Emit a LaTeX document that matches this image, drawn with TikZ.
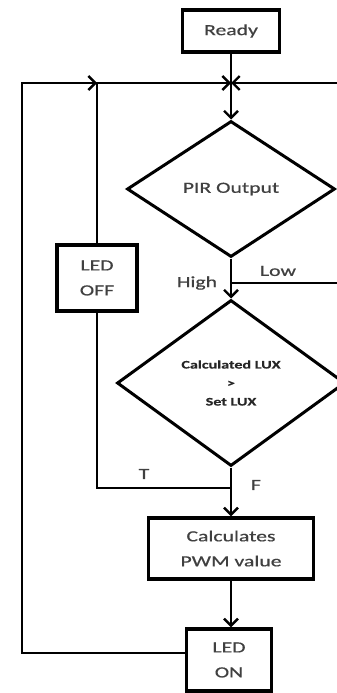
\documentclass[tikz,border=0pt]{standalone}
\usepackage{fontspec}
\setmainfont[FakeStretch=1.4,FakeBold=0.6]{Carlito}
\usetikzlibrary{arrows.meta,shapes.geometric}
\tikzset{
  txt/.style={text=black!75, font=\fontsize{15.5}{25}\selectfont, align=center},
  box/.style={txt, draw=black, line width=3.4pt, rectangle, inner sep=0pt},
  dia/.style={txt, draw=black, line width=3pt, diamond, inner sep=0pt},
  conn/.style={line width=2.6pt, line join=miter},
  arr/.style={conn, -{Straight Barb[length=7pt,width=14pt,line width=2.4pt]}},
  lbl/.style={txt, inner sep=0pt}
}
\begin{document}
\begin{tikzpicture}[x=1pt,y=-1pt]
\clip (0,0) rectangle (337,693);
\fill[white] (0,0) rectangle (337,693);
% nodes
\node[box, minimum width=97pt, minimum height=42pt] (ready) at (231,31) {Ready};
\node[dia, minimum width=208pt, minimum height=136pt] (pir) at (231,189) {PIR Output};
\node[dia, minimum width=228pt, minimum height=166pt,
      font=\fontsize{11.5}{18.5}\selectfont\bfseries, text=black!85] (lux) at (231,383)
      {Calculated LUX\\>\\Set LUX};
\node[box, minimum width=80pt, minimum height=66pt] (ledoff) at (97,278) {LED\\OFF};
\node[box, minimum width=165pt, minimum height=61pt] (pwm) at (231,548.5) {Calculates\\PWM value};
\node[box, minimum width=85pt, minimum height=62pt] (ledon) at (229,660) {LED\\ON};
% labels
\node[lbl] (high) at (197,283) {High};
\node[lbl] (low) at (278,271) {Low};
\node[lbl] (t) at (144,474) {T};
\node[lbl] (f) at (256,485) {F};
% junction points
\coordinate (J) at (231,83);
\coordinate (K) at (97,83);
\coordinate (TL) at (22,83);
\coordinate (R1) at (345,83);
\coordinate (L) at (231,283);
\coordinate (R2) at (345,283);
\coordinate (TF) at (231,488);
% connectors
\draw[conn] (ready.south) -- (J);
\draw[arr] (R1) -- (J);
\draw[arr] (ledoff.north) -- (K) -- (J);
\draw[arr] ([yshift=7pt]ledon.west) -| (TL) -- (K);
\draw[arr] (J) -- (pir.north);
\draw[conn] (pir.south) -- (L);
\draw[conn] (L) -- (R2);
\draw[arr] (L) -- (lux.north);
\draw[conn] (lux.south) -- (TF);
\draw[conn] (ledoff.south) |- (TF);
\draw[arr] (TF) -- (pwm.north);
\draw[arr] (pwm.south) -- (pwm.south |- ledon.north);
\end{tikzpicture}
\end{document}
